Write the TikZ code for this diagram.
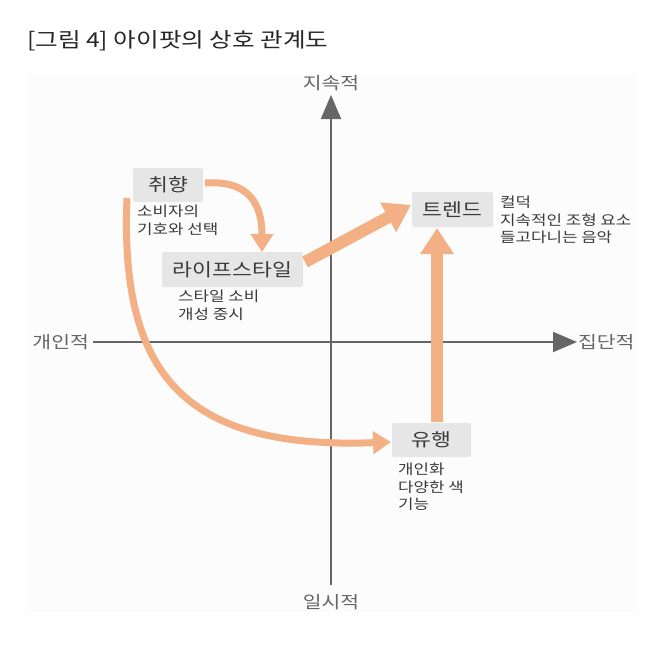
\documentclass[tikz,border=0pt]{standalone}
\usepackage{fontspec}
\setmainfont[FakeStretch=1.2]{Noto Sans CJK KR}
\usetikzlibrary{arrows.meta}
\definecolor{arr}{HTML}{F2B084}
\definecolor{axisc}{HTML}{666666}
\definecolor{boxc}{HTML}{E6E6E6}
\definecolor{panel}{HTML}{FCFCFC}
\definecolor{txt}{HTML}{3A3A3A}
\tikzset{
  boxnode/.style={fill=boxc, rounded corners=2pt, text=txt, font=\fontsize{18}{21}\selectfont, inner sep=0pt},
  sub/.style={align=left, anchor=north west, text=txt, font=\fontsize{14}{17.5}\selectfont, inner sep=0pt},
  axlabel/.style={text=axisc, font=\fontsize{17}{20}\selectfont, inner sep=0pt},
  axisline/.style={draw=axisc, line width=2pt, -{Triangle[width=20pt,length=24pt]}},
  thin arrow/.style={draw=arr, line width=7pt, -{Triangle[width=22pt,length=18pt]}},
  thick arrow/.style={draw=arr, line width=12pt, -{Triangle[width=32pt,length=26pt]}},
}
\begin{document}
\begin{tikzpicture}[x=1pt,y=-1pt]
\useasboundingbox (0,0) rectangle (663,650);
\fill[white] (0,0) rectangle (663,650);
\fill[panel] (27,74) rectangle (637,612);
\node[anchor=west, inner sep=0pt, text=black!85, font=\fontsize{20.5}{24}\selectfont] (title) at (27,41) {[그림 4] 아이팟의 상호 관계도};
% axes
\coordinate (ybot) at (331,585);
\coordinate (ytop) at (331,95);
\coordinate (xl) at (93,342);
\coordinate (xr) at (577,342);
\draw[axisline] (ybot) -- (ytop);
\draw[axisline] (xl) -- (xr);
\node[axlabel] (top) at (331,83) {지속적};
\node[axlabel] (bot) at (331,602) {일시적};
\node[axlabel, anchor=east] (left) at (89,342) {개인적};
\node[axlabel, anchor=west] (right) at (578,342) {집단적};
% boxes
\node[boxnode, minimum width=70pt, minimum height=34pt] (taste) at (168,185) {취향};
\node[boxnode, minimum width=141pt, minimum height=35pt] (life) at (232.5,269.5) {라이프스타일};
\node[boxnode, minimum width=81pt, minimum height=35pt] (trend) at (452.5,209.5) {트렌드};
\node[boxnode, minimum width=79pt, minimum height=34pt] (fad) at (431.5,440) {유행};
% sub labels
\node[sub] (tasteS) at (137,205) {소비자의\\기호와 선택};
\node[sub] (lifeS) at (178,290) {스타일 소비\\개성 중시};
\node[sub] (trendS) at (500,196) {컬덕\\지속적인 조형 요소\\들고다니는 음악};
\node[sub] (fadS) at (398,463) {개인화\\다양한 색\\기능};
% connector end points
\coordinate (t1) at (205,183);
\coordinate (l1) at (262,252);
\coordinate (t2) at (127,198);
\coordinate (f2) at (391,442);
\coordinate (l3) at (305,262);
\coordinate (r3) at (411,205);
\coordinate (f4) at (437,422);
\coordinate (r4) at (437,228);
% arrows
\draw[thin arrow] (t1) .. controls (250,180) and (262,205) .. (l1);
\draw[thin arrow] (t2) .. controls (120,370) and (180,450) .. (f2);
\draw[thick arrow] (l3) -- (r3);
\draw[thick arrow] (f4) -- (r4);
\end{tikzpicture}
\end{document}
